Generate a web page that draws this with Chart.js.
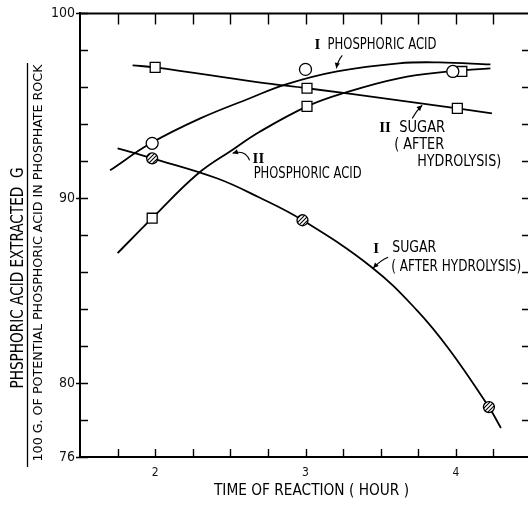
<!DOCTYPE html>
<html><head><meta charset="utf-8">
<script src="https://cdn.jsdelivr.net/npm/chart.js@4/dist/chart.umd.min.js"></script>
<style>html,body{margin:0;padding:0;background:#fff;overflow:hidden;width:528px;height:516px}canvas{display:block}</style>
</head><body><canvas id="c" width="540" height="516"></canvas>
<script>
// ---- axis tick labels ----
const xTickLabels = [2, 3, 4];
const yTickLabels = [76, 80, 90, 100];

// ---- fitted curves ----
const phos1CurveX = [1.70, 1.97, 2.30, 2.63, 2.87, 3.21, 3.62, 3.89, 4.23];
const phos1CurveY = [91.51, 92.97, 94.32, 95.41, 96.16, 96.86, 97.30, 97.35, 97.24];
const phos2CurveX = [1.75, 1.98, 2.28, 2.52, 2.69, 3.01, 3.25, 3.62, 3.96, 4.23];
const phos2CurveY = [87.03, 88.92, 91.30, 92.65, 93.57, 94.97, 95.68, 96.49, 96.86, 97.03];
const sugar2CurveX = [1.85, 2.00, 2.69, 3.01, 3.62, 4.01, 4.24];
const sugar2CurveY = [97.19, 97.08, 96.27, 95.95, 95.30, 94.86, 94.59];
const sugar1CurveX = [1.75, 1.98, 2.41, 2.69, 2.98, 3.44, 3.74, 3.96, 4.22, 4.30];
const sugar1CurveY = [92.70, 92.16, 91.08, 90.05, 88.81, 86.27, 83.95, 81.78, 78.70, 77.57];

// ---- measured points ----
const phos1PtsX = [1.98, 3.00, 3.98];
const phos1PtsY = [92.97, 96.97, 96.86];
const phos2PtsX = [1.98, 3.01, 4.04];
const phos2PtsY = [88.92, 94.97, 96.86];
const sugar2PtsX = [2.00, 3.01, 4.01];
const sugar2PtsY = [97.08, 95.95, 94.86];
const sugar1PtsX = [1.98, 2.98, 4.22];
const sugar1PtsY = [92.16, 88.81, 78.70];

// ---- annotation texts (data coords) ----
const labelTexts = [
  {t: 'I', x: 3.06, y: 98.27, serif: true},
  {t: 'PHOSPHORIC ACID', x: 3.146, y: 98.27, w: 109},
  {t: 'II', x: 3.49, y: 93.78, serif: true},
  {t: 'SUGAR', x: 3.623, y: 93.78, w: 46},
  {t: '( AFTER', x: 3.59, y: 92.86, w: 50},
  {t: 'HYDROLYSIS)', x: 3.743, y: 91.95, w: 84},
  {t: 'II', x: 2.648, y: 92.11, serif: true},
  {t: 'PHOSPHORIC ACID', x: 2.655, y: 91.30, w: 108},
  {t: 'I', x: 3.451, y: 87.24, serif: true},
  {t: 'SUGAR', x: 3.577, y: 87.30, w: 44},
  {t: '( AFTER HYDROLYSIS)', x: 3.570, y: 86.27, w: 130}
];
const arrows = [
  {from: [3.245, 97.73], ctrl: [3.215, 97.45], to: [3.205, 97.03]},
  {from: [3.71, 94.32], ctrl: [3.74, 94.75], to: [3.776, 95.03]},
  {from: [2.628, 92.05], ctrl: [2.60, 92.65], to: [2.515, 92.43]},
  {from: [3.55, 86.81], ctrl: [3.50, 86.65], to: [3.45, 86.22]}
];

const NARROW = "'Liberation Sans Narrow','DejaVu Sans Condensed','Liberation Sans',sans-serif";
const toPts = (xs, ys) => xs.map((x, i) => ({x: x, y: ys[i]}));

const canvas = document.getElementById('c');
const ctx0 = canvas.getContext('2d');
const hatch = (() => {
  const c = document.createElement('canvas'); c.width = 4; c.height = 4;
  const g = c.getContext('2d');
  g.fillStyle = '#fff'; g.fillRect(0, 0, 4, 4);
  g.strokeStyle = '#000'; g.lineWidth = 1.1;
  g.beginPath(); g.moveTo(-1, 5); g.lineTo(5, -1); g.moveTo(-1, 1); g.lineTo(1, -1); g.moveTo(3, 5); g.lineTo(5, 3); g.stroke();
  return ctx0.createPattern(c, 'repeat');
})();

function curve(xs, ys) {
  return {data: toPts(xs, ys), showLine: true, borderColor: '#000', borderWidth: 1.8,
    pointRadius: 0, tension: 0.4, order: 2, fill: false};
}
function marks(xs, ys, style, r, bg) {
  return {data: toPts(xs, ys), showLine: false, pointStyle: style, pointRadius: r,
    backgroundColor: bg, borderColor: '#000', borderWidth: 1.3, order: 0};
}

function fitText(ctx, txt, x, y, w, size, family) {
  ctx.save();
  ctx.font = size + 'px ' + family;
  const m = ctx.measureText(txt).width;
  ctx.translate(x, y);
  ctx.scale(w / m, 1);
  ctx.textAlign = 'left'; ctx.textBaseline = 'middle';
  ctx.fillText(txt, 0, 0);
  ctx.restore();
}
function fitTextV(ctx, txt, x, yc, len, size, family) {
  ctx.save();
  ctx.font = size + 'px ' + family;
  const m = ctx.measureText(txt).width;
  ctx.translate(x, yc);
  ctx.rotate(-Math.PI / 2);
  ctx.scale(len / m, 1);
  ctx.textAlign = 'center'; ctx.textBaseline = 'middle';
  ctx.fillText(txt, 0, 0);
  ctx.restore();
}

const decor = {
  id: 'decor',
  afterDraw(chart) {
    const ctx = chart.ctx, a = chart.chartArea, xs = chart.scales.x, ys = chart.scales.y;
    ctx.save();
    ctx.strokeStyle = '#000'; ctx.fillStyle = '#000';
    // frame top and right
    ctx.lineWidth = 2;
    ctx.beginPath(); ctx.moveTo(a.left, a.top); ctx.lineTo(a.right, a.top); ctx.lineTo(a.right, a.bottom); ctx.stroke();
    // ticks
    ctx.lineWidth = 1.4;
    ctx.beginPath();
    xs.ticks.forEach(t => {
      if (t.value <= xs.min || t.value >= xs.max) return;
      const px = Math.round(xs.getPixelForValue(t.value)) + 0.5;
      ctx.moveTo(px, a.top); ctx.lineTo(px, a.top + 11);
      ctx.moveTo(px, a.bottom); ctx.lineTo(px, a.bottom - 8);
    });
    ys.ticks.forEach(t => {
      const py = Math.round(ys.getPixelForValue(t.value)) + 0.5;
      const lab = yTickLabels.includes(t.value);
      ctx.moveTo(a.left - (lab ? 4 : 0), py); ctx.lineTo(a.left + 8, py);
      if (t.value > ys.min && t.value < ys.max) { ctx.moveTo(a.right, py); ctx.lineTo(a.right - 9, py); }
    });
    ctx.stroke();

    // annotations
    labelTexts.forEach(l => {
      const px = xs.getPixelForValue(l.x), py = ys.getPixelForValue(l.y);
      if (l.serif) {
        ctx.font = 'bold 15px "Liberation Serif", serif';
        ctx.textAlign = 'left'; ctx.textBaseline = 'middle';
        ctx.fillText(l.t, px, py);
      } else {
        fitText(ctx, l.t, px, py, l.w, 15, NARROW);
      }
    });
    ctx.lineWidth = 1.1;
    arrows.forEach(ar => {
      const f = [xs.getPixelForValue(ar.from[0]), ys.getPixelForValue(ar.from[1])];
      const c = [xs.getPixelForValue(ar.ctrl[0]), ys.getPixelForValue(ar.ctrl[1])];
      const t = [xs.getPixelForValue(ar.to[0]), ys.getPixelForValue(ar.to[1])];
      ctx.beginPath(); ctx.moveTo(f[0], f[1]); ctx.quadraticCurveTo(c[0], c[1], t[0], t[1]); ctx.stroke();
      const ang = Math.atan2(t[1] - c[1], t[0] - c[0]);
      const L = 6, W = 0.45;
      ctx.beginPath();
      ctx.moveTo(t[0], t[1]);
      ctx.lineTo(t[0] - L * Math.cos(ang - W), t[1] - L * Math.sin(ang - W));
      ctx.lineTo(t[0] - L * Math.cos(ang + W), t[1] - L * Math.sin(ang + W));
      ctx.closePath(); ctx.fill();
    });

    // y axis title (fraction)
    fitTextV(ctx, 'PHSPHORIC ACID EXTRACTED  G', 18.5, 278, 221, 17, NARROW);
    ctx.lineWidth = 1.3;
    ctx.beginPath(); ctx.moveTo(27.5, 63); ctx.lineTo(27.5, 467); ctx.stroke();
    fitTextV(ctx, '100 G. OF POTENTIAL PHOSPHORIC ACID IN PHOSPHATE ROCK', 38.5, 263, 397, 13, NARROW);
    // x axis title
    fitText(ctx, 'TIME OF REACTION ( HOUR )', 214, 491, 195, 16, NARROW);
    ctx.restore();
  }
};

new Chart(canvas, {
  type: 'scatter',
  data: {
    datasets: [
      marks(phos1PtsX, phos1PtsY, 'circle', 6, '#fff'),
      marks(phos2PtsX, phos2PtsY, 'rect', 7, '#fff'),
      marks(sugar2PtsX, sugar2PtsY, 'rect', 7, '#fff'),
      marks(sugar1PtsX, sugar1PtsY, 'circle', 5.5, hatch),
      curve(phos1CurveX, phos1CurveY),
      curve(phos2CurveX, phos2CurveY),
      curve(sugar2CurveX, sugar2CurveY),
      curve(sugar1CurveX, sugar1CurveY)
    ]
  },
  options: {
    responsive: false, animation: false,
    layout: {padding: {top: 13, right: 8, left: 0, bottom: 0}},
    plugins: {legend: {display: false}, tooltip: {enabled: false}},
    scales: {
      x: {
        type: 'linear', min: 1.5, max: 4.5,
        afterFit: s => { s.height = 59; },
        ticks: {stepSize: 0.25, autoSkip: false, maxRotation: 0, padding: 9, color: '#111',
          font: {family: NARROW, size: 12},
          callback: v => xTickLabels.includes(v) ? String(v) : ''},
        grid: {drawOnChartArea: false, drawTicks: false},
        border: {color: '#000', width: 2}
      },
      y: {
        min: 76, max: 100,
        afterFit: s => { s.width = 80; },
        ticks: {stepSize: 2, autoSkip: false, padding: 5, color: '#111',
          font: {family: NARROW, size: 14},
          callback: v => yTickLabels.includes(v) ? String(v) : ''},
        grid: {drawOnChartArea: false, drawTicks: false},
        border: {color: '#000', width: 2}
      }
    }
  },
  plugins: [decor]
});
</script>
</body></html>
